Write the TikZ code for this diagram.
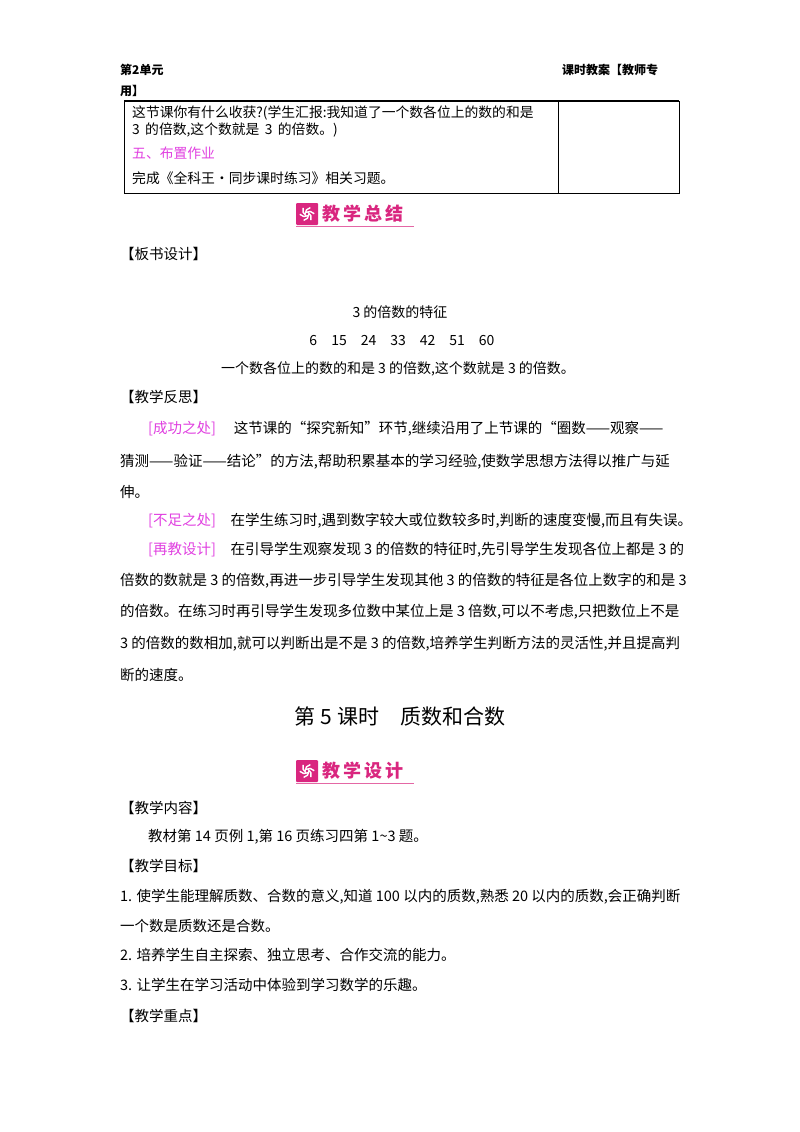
\documentclass[tikz,border=0pt]{standalone}
\usepackage{fontspec}
\setmainfont{Noto Sans CJK SC}
\usepackage{xcolor}
\usetikzlibrary{positioning}
\definecolor{lessonPink}{HTML}{D9267F}
\definecolor{notePink}{HTML}{E040E0}
\tikzset{
	txt/.style={anchor=west, inner sep=0pt, font=\fontsize{14.5}{16}\selectfont},
	cell/.style={anchor=west, inner sep=0pt, font=\fontsize{13.8}{15}\selectfont},
	head/.style={anchor=west, inner sep=0pt, font=\fontsize{12}{14}\selectfont\bfseries},
	mid/.style={anchor=center, inner sep=0pt, font=\fontsize{14}{16}\selectfont},
	bannerText/.style={anchor=west, inner sep=0pt, text=lessonPink, font=\fontsize{18}{20}\selectfont\bfseries},
}
\newcommand{\pinkNote}[1]{\textcolor{notePink}{[#1]}}
\newcommand{\banner}[3]{% name, y, text
	\fill[lessonPink, rounded corners=1pt] (296,#2-11) rectangle ++(22,22);
	\foreach \ang in {0,60,...,300}
	{
		\draw[white, line width=1.4pt] (307,#2) ++(\ang:2) arc (\ang:\ang+80:6.5);
	}
	\node[bannerText] (#1) at (322,#2) {#3};
	\draw[lessonPink!70, line width=0.8pt] (296,#2+12) -- (414,#2+12);
}
\begin{document}
\begin{tikzpicture}[x=1pt,y=-1pt]
	\useasboundingbox (0,0) rectangle (800,1132);
	
	% page header
	\node[head] (unit) at (120,70) {第2单元};
	\node[head] (plan) at (562,70) {课时教案【教师专};
	\node[head] (planEnd) at (120,91) {用】};
	
	% table
	\draw[line width=1.2pt] (124,101) -- (679,101);
	\draw[line width=0.8pt] (124,101) rectangle (679,193) (558,101) -- (558,193);
	\node[cell] (gain1) at (132,113) {这节课你有什么收获?(学生汇报:我知道了一个数各位上的数的和是};
	\node[cell] (gain2) at (132,130) {3\, 的倍数,这个数就是\, 3\, 的倍数。)};
	\node[cell, text=notePink] (hw) at (132,153) {五、布置作业};
	\node[cell] (hwText) at (132,178) {完成《全科王·同步课时练习》相关习题。};
	
	\banner{sumBanner}{214}{教\,学\,总\,结}
	
	\node[txt] (board) at (120,254) {【板书设计】};
	\node[mid] (boardTitle) at (400,312) {3 的倍数的特征};
	\node[mid] (boardNums) at (402,341) {6\quad 15\quad 24\quad 33\quad 42\quad 51\quad 60};
	\node[mid] (boardRule) at (398,369) {一个数各位上的数的和是 3 的倍数,这个数就是 3 的倍数。};
	
	\node[txt] (reflect) at (120,397) {【教学反思】};
	\node[txt] (good1) at (148,429) {\pinkNote{成功之处}\quad\ 这节课的“探究新知”环节,继续沿用了上节课的“圈数——观察——};
	\node[txt] (good2) at (120,462) {猜测——验证——结论”的方法,帮助积累基本的学习经验,使数学思想方法得以推广与延};
	\node[txt] (good3) at (120,492) {伸。};
	\node[txt] (weak) at (148,521) {\pinkNote{不足之处}\quad 在学生练习时,遇到数字较大或位数较多时,判断的速度变慢,而且有失误。};
	\node[txt] (redo1) at (148,550) {\pinkNote{再教设计}\quad 在引导学生观察发现 3 的倍数的特征时,先引导学生发现各位上都是 3 的};
	\node[txt] (redo2) at (120,581) {倍数的数就是 3 的倍数,再进一步引导学生发现其他 3 的倍数的特征是各位上数字的和是 3};
	\node[txt] (redo3) at (120,612) {的倍数。在练习时再引导学生发现多位数中某位上是 3 倍数,可以不考虑,只把数位上不是};
	\node[txt] (redo4) at (120,644) {3 的倍数的数相加,就可以判断出是不是 3 的倍数,培养学生判断方法的灵活性,并且提高判};
	\node[txt] (redo5) at (120,675) {断的速度。};
	
	\node[mid, font=\fontsize{21}{24}\selectfont] (lesson) at (400,716) {第 5 课时\quad 质数和合数};
	
	\banner{designBanner}{771}{教\,学\,设\,计}
	
	\node[txt] (content) at (120,808) {【教学内容】};
	\node[txt] (contentText) at (148,837) {教材第 14 页例 1,第 16 页练习四第 1\textasciitilde 3 题。};
	\node[txt] (goal) at (120,866) {【教学目标】};
	\node[txt] (goal1) at (120,897) {1. 使学生能理解质数、合数的意义,知道 100 以内的质数,熟悉 20 以内的质数,会正确判断};
	\node[txt] (goal1b) at (120,926) {一个数是质数还是合数。};
	\node[txt] (goal2) at (120,955) {2. 培养学生自主探索、独立思考、合作交流的能力。};
	\node[txt] (goal3) at (120,985) {3. 让学生在学习活动中体验到学习数学的乐趣。};
	\node[txt] (focus) at (120,1016) {【教学重点】};
\end{tikzpicture}
\end{document}
